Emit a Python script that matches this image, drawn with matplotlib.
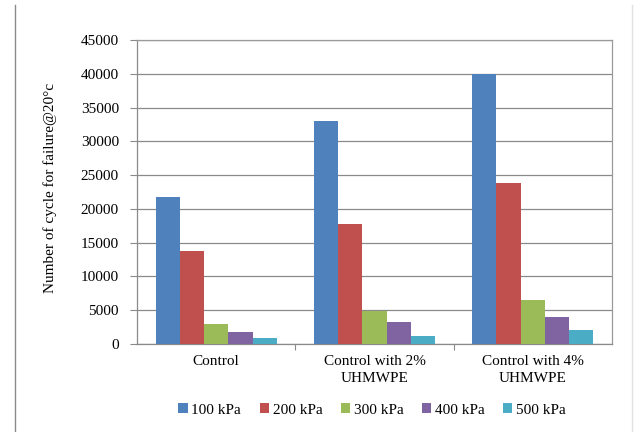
import matplotlib
matplotlib.use("Agg")
import matplotlib.pyplot as plt
from matplotlib.lines import Line2D
from matplotlib.patches import Patch
import numpy as np

categories = ["Control", "Control with 2%\nUHMWPE", "Control with 4%\nUHMWPE"]
series_names = ["100 kPa", "200 kPa", "300 kPa", "400 kPa", "500 kPa"]
values_100 = [21700, 33000, 40000]
values_200 = [13700, 17700, 23800]
values_300 = [2900, 4900, 6500]
values_400 = [1750, 3300, 4000]
values_500 = [850, 1200, 2000]
yticks = [0, 5000, 10000, 15000, 20000, 25000, 30000, 35000, 40000, 45000]

series = [values_100, values_200, values_300, values_400, values_500]
colors = ["#4F81BD", "#C0504D", "#9BBB59", "#8064A2", "#4BACC6"]

plt.rcParams["font.family"] = ["Liberation Serif", "DejaVu Serif"]
fs = 11

fig = plt.figure(figsize=(6.36, 4.32), dpi=100)
ax = fig.add_axes([137 / 636, 1 - 344 / 432, (612 - 137) / 636, (344 - 40) / 432])

x = np.arange(len(categories))
w = 0.153
for i, (vals, c) in enumerate(zip(series, colors)):
    ax.bar(x + (i - 2) * w, vals, width=w, color=c, zorder=3, linewidth=0)

ax.set_xlim(-0.5, 2.5)
ax.set_ylim(0, 45000)
ax.set_yticks(yticks)
ax.set_yticklabels([str(v) for v in yticks], fontsize=fs)
ax.yaxis.grid(True, color="#8a8a8a", linewidth=0.9, zorder=0)
ax.tick_params(axis="y", length=5, color="#8a8a8a", pad=8)

# category boundaries as major ticks, labels as minor ticks
ax.set_xticks([0.5, 1.5])
ax.set_xticklabels(["", ""])
ax.set_xticks(x, minor=True)
ax.set_xticklabels(categories, minor=True, fontsize=fs, linespacing=1.35)
ax.tick_params(axis="x", which="major", length=4, color="#8a8a8a", direction="out")
ax.tick_params(axis="x", which="minor", length=0, pad=8)

for side in ["left", "bottom"]:
    ax.spines[side].set_color("#8a8a8a")
    ax.spines[side].set_linewidth(0.9)
for side in ["right", "top"]:
    ax.spines[side].set_color("#9a9a9a")
    ax.spines[side].set_linewidth(0.9)

fig.text(50 / 636, 1 - 188 / 432, "Number of cycle for failure@20°c",
         rotation=90, ha="center", va="center", fontsize=fs)

handles = [Patch(facecolor=c, edgecolor="none") for c in colors]
fig.legend(handles, series_names, loc="center", ncol=5,
           bbox_to_anchor=(372 / 636, 1 - 410 / 432), frameon=False,
           fontsize=fs, handlelength=0.6, handleheight=0.6,
           handletextpad=0.25, columnspacing=1.2)

# page borders around the chart
fig.add_artist(Line2D([15 / 636, 15 / 636], [0, 1 - 5 / 432],
                      transform=fig.transFigure, color="#8a8a8a", linewidth=1.0))
fig.add_artist(Line2D([632 / 636, 632 / 636], [0, 1 - 5 / 432],
                      transform=fig.transFigure, color="#e2e2e2", linewidth=1.0))

fig.savefig("out.png", dpi=100)
